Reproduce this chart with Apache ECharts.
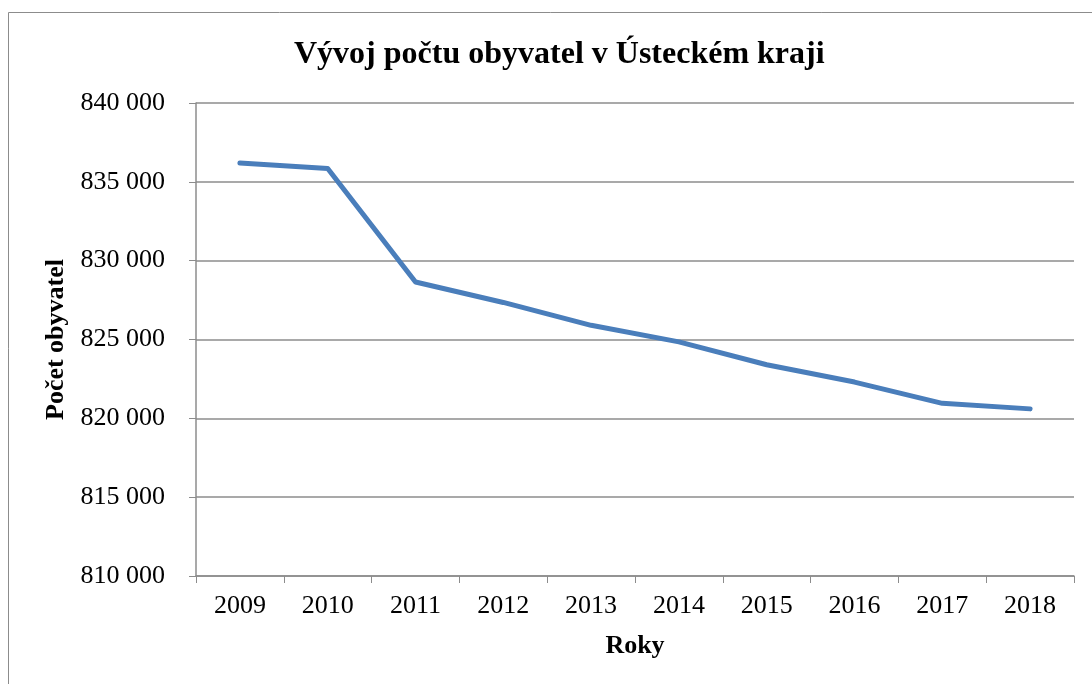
<!DOCTYPE html>
<html>
<head>
<meta charset="utf-8">
<script src="https://cdn.jsdelivr.net/npm/echarts@6/dist/echarts.min.js"></script>
<style>
  html, body { margin: 0; padding: 0; background: #fff; }
  #chart { width: 1092px; height: 684px; }
</style>
</head>
<body>
<div id="chart"></div>
<script>
// roky a počty obyvatel
const years = ['2009', '2010', '2011', '2012', '2013', '2014', '2015', '2016', '2017', '2018']
const population = [836200, 835850, 828650, 827350, 825900, 824850, 823400, 822300, 820950, 820600]
const yMin = 810000
const yMax = 840000
const yStep = 5000

const serif = '"Liberation Serif", "DejaVu Serif", serif'
const gridColor = '#8c8c8c'

const chart = echarts.init(document.getElementById('chart'))
chart.setOption({
  backgroundColor: '#fff',
  animation: false,
  // rámeček grafu
  graphic: [{
    type: 'rect',
    shape: { x: 8.5, y: 12.5, width: 1100, height: 700 },
    style: { fill: 'none', stroke: '#8c8c8c', lineWidth: 1 },
    silent: true
  }],
  title: {
    text: 'Vývoj počtu obyvatel v Ústeckém kraji',
    left: 289,
    top: 34,
    textStyle: { fontFamily: serif, fontWeight: 'bold', fontSize: 32, color: '#000' }
  },
  grid: { left: 196, right: 18, top: 103, bottom: 108 },
  xAxis: {
    type: 'category',
    data: years,
    boundaryGap: true,
    name: 'Roky',
    nameLocation: 'middle',
    nameGap: 57,
    nameTextStyle: { fontFamily: serif, fontWeight: 'bold', fontSize: 26, color: '#000' },
    axisLine: { lineStyle: { color: gridColor, width: 1.5 } },
    axisTick: { show: true, length: 7, interval: 0, alignWithLabel: false, lineStyle: { color: gridColor } },
    axisLabel: { fontFamily: serif, fontSize: 26, color: '#000', margin: 17 }
  },
  yAxis: {
    type: 'value',
    min: yMin,
    max: yMax,
    interval: yStep,
    name: 'Počet obyvatel',
    nameLocation: 'middle',
    nameGap: 123,
    nameRotate: 90,
    nameTextStyle: { fontFamily: serif, fontWeight: 'bold', fontSize: 26, color: '#000' },
    axisLine: { show: true, lineStyle: { color: gridColor, width: 1.5 } },
    axisTick: { show: true, length: 7, inside: false, lineStyle: { color: gridColor } },
    splitLine: { lineStyle: { color: gridColor, width: 1.5 } },
    axisLabel: {
      fontFamily: serif,
      fontSize: 26,
      color: '#000',
      margin: 31,
      formatter: v => String(v).replace(/\B(?=(\d{3})+(?!\d))/g, ' ')
    }
  },
  series: [{
    type: 'line',
    data: population,
    showSymbol: false,
    lineStyle: { color: '#4a7ebb', width: 5, cap: 'round', join: 'round' },
    itemStyle: { color: '#4a7ebb' }
  }]
})
</script>
</body>
</html>
